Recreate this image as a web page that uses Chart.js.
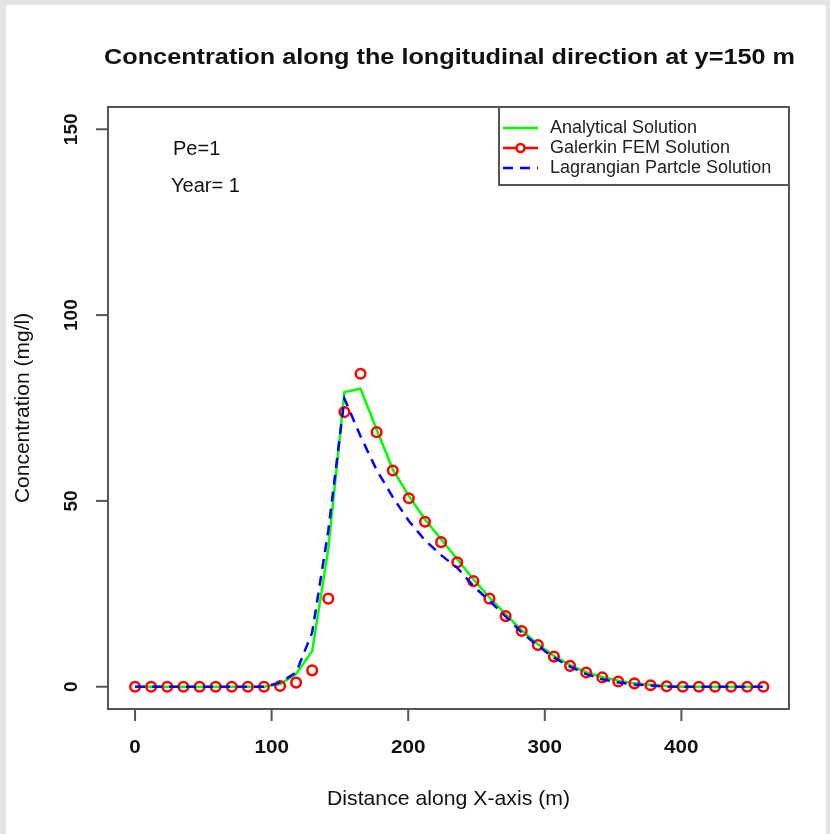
<!DOCTYPE html>
<html lang="en">
<head>
    <meta charset="UTF-8">
    <title>Concentration along the longitudinal direction</title>
    <script src="https://cdn.jsdelivr.net/npm/chart.js"></script>
    <style>
        html, body {
            margin: 0;
            padding: 0;
            background: #e4e4e4;
        }
        #wrap {
            width: 830px;
            height: 834px;
        }
    </style>
</head>
<body>
    <div id="wrap"><canvas id="concChart"></canvas></div>

    <script>
        // distance along x (m), 40 nodes
        const xDist = [0, 11.8, 23.6, 35.4, 47.2, 59.0, 70.8, 82.6, 94.4, 106.2,
                       117.9, 129.7, 141.5, 153.3, 165.1, 176.9, 188.7, 200.5, 212.3, 224.1,
                       235.9, 247.7, 259.5, 271.3, 283.1, 294.9, 306.7, 318.5, 330.3, 342.1,
                       353.8, 365.6, 377.4, 389.2, 401.0, 412.8, 424.6, 436.4, 448.2, 460];

        const analytical = [0, 0, 0, 0, 0, 0, 0, 0, 0, 0.7,
                            3.4, 9.6, 37, 79.3, 80.2, 69.2, 58.5, 51.3, 45, 39.7,
                            34.3, 28.9, 24, 19.5, 15.2, 11.4, 8.3, 5.8, 3.9, 2.6,
                            1.6, 0.9, 0.5, 0.2, 0, 0, 0, 0, 0, 0];

        const galerkin = [0, 0, 0, 0, 0, 0, 0, 0, 0, 0.2,
                          1.1, 4.4, 23.7, 73.9, 84.2, 68.5, 58.2, 50.7, 44.4, 38.9,
                          33.5, 28.4, 23.7, 19.0, 15.0, 11.2, 8.1, 5.6, 3.8, 2.5,
                          1.4, 0.9, 0.4, 0.1, 0, 0, 0, 0, 0, 0];

        const lagrangian = [0, 0, 0, 0, 0, 0, 0, 0, 0, 1.1,
                            3.8, 14.6, 42, 77.5, 67.4, 58.3, 51.0, 44.6, 39.4, 35.4,
                            32, 27.1, 23.1, 18.9, 14.6, 11.0, 7.8, 5.4, 3.4, 2.0,
                            1.1, 0.6, 0.3, 0, 0, 0, 0, 0, 0, 0];

        const xTicks = [0, 100, 200, 300, 400];
        const yTicks = [0, 50, 100, 150];

        const seriesNames = ["Analytical Solution", "Galerkin FEM Solution", "Lagrangian Partcle Solution"];
        const notes = ["Pe=1", "Year= 1"];

        const FONT = '"Liberation Sans", Arial, sans-serif';

        function pts(ys) {
            return xDist.map((x, i) => ({ x: x, y: ys[i] }));
        }

        // text squeezed/stretched to a given width (the source picture is stretched sideways)
        function fitText(ctx, text, cx, cy, width) {
            const w = ctx.measureText(text).width;
            ctx.save();
            ctx.translate(cx, cy);
            ctx.scale(width / w, 1);
            ctx.fillText(text, 0, 0);
            ctx.restore();
        }

        // R-style frame, ticks, labels and legend
        const rFrame = {
            id: "rFrame",
            beforeDraw(chart) {
                const ctx = chart.ctx;
                ctx.save();
                ctx.fillStyle = "#e4e4e4";
                ctx.fillRect(0, 0, chart.width, chart.height);
                ctx.fillStyle = "#ffffff";
                ctx.fillRect(6, 5, 820, chart.height - 5);
                ctx.restore();
            },
            afterDraw(chart) {
                const ctx = chart.ctx;
                const a = chart.chartArea;
                const xs = chart.scales.x;
                const ys = chart.scales.y;
                ctx.save();

                // box
                ctx.strokeStyle = "#555";
                ctx.lineWidth = 2;
                ctx.strokeRect(a.left, a.top, a.right - a.left, a.bottom - a.top);

                ctx.fillStyle = "#111";
                ctx.font = "bold 19px " + FONT;
                ctx.textAlign = "center";
                ctx.textBaseline = "middle";

                // x ticks
                xTicks.forEach(v => {
                    const px = xs.getPixelForValue(v);
                    ctx.beginPath();
                    ctx.moveTo(px, a.bottom);
                    ctx.lineTo(px, a.bottom + 12);
                    ctx.stroke();
                    fitText(ctx, String(v), px, a.bottom + 39, String(v).length * 11.5);
                });

                // y ticks (rotated labels)
                yTicks.forEach(v => {
                    const py = ys.getPixelForValue(v);
                    ctx.beginPath();
                    ctx.moveTo(a.left, py);
                    ctx.lineTo(a.left - 12, py);
                    ctx.stroke();
                    ctx.save();
                    ctx.translate(a.left - 36, py);
                    ctx.rotate(-Math.PI / 2);
                    ctx.fillText(String(v), 0, 0);
                    ctx.restore();
                });

                // title
                ctx.font = "bold 22px " + FONT;
                fitText(ctx, "Concentration along the longitudinal direction at y=150 m",
                        449.5, 58, 691);

                // axis titles
                ctx.font = "21px " + FONT;
                fitText(ctx, "Distance along X-axis (m)", (a.left + a.right) / 2, 799, 243);
                ctx.save();
                ctx.translate(23, (a.top + a.bottom) / 2);
                ctx.rotate(-Math.PI / 2);
                ctx.fillText("Concentration (mg/l)", 0, 0);
                ctx.restore();

                // annotations
                ctx.textAlign = "left";
                ctx.font = "20px " + FONT;
                ctx.fillText(notes[0], 173, 149);
                ctx.fillText(notes[1], 171, 186);

                // legend
                const lx = 499, ly = a.top, lw = a.right - 499, lh = 78;
                ctx.strokeStyle = "#555";
                ctx.lineWidth = 2;
                ctx.strokeRect(lx, ly, lw, lh);
                const rows = [ly + 21, ly + 41, ly + 61];
                const colors = ["#00ff00", "#ff0000", "#0000ff"];
                rows.forEach((ry, i) => {
                    ctx.strokeStyle = colors[i];
                    ctx.lineWidth = 2.5;
                    ctx.setLineDash(i === 2 ? [10, 7] : []);
                    ctx.beginPath();
                    ctx.moveTo(503, ry);
                    ctx.lineTo(538, ry);
                    ctx.stroke();
                    ctx.setLineDash([]);
                    if (i === 1) {
                        ctx.fillStyle = "#fff";
                        ctx.beginPath();
                        ctx.arc(520.5, ry, 4, 0, Math.PI * 2);
                        ctx.fill();
                        ctx.stroke();
                    }
                    ctx.fillStyle = "#222";
                    ctx.font = "18px " + FONT;
                    ctx.fillText(seriesNames[i], 550, ry);
                });

                ctx.restore();
            }
        };

        const ctx = document.getElementById("concChart").getContext("2d");
        new Chart(ctx, {
            type: "scatter",
            data: {
                datasets: [
                    {
                        label: seriesNames[0],
                        data: pts(analytical),
                        showLine: true,
                        borderColor: "#00ff00",
                        borderWidth: 2.5,
                        pointRadius: 0,
                        tension: 0,
                        order: 3
                    },
                    {
                        label: seriesNames[1],
                        data: pts(galerkin),
                        showLine: false,
                        borderColor: "#ff0000",
                        backgroundColor: "rgba(0,0,0,0)",
                        pointRadius: 4.8,
                        pointBorderWidth: 2.5,
                        order: 2
                    },
                    {
                        label: seriesNames[2],
                        data: pts(lagrangian),
                        showLine: true,
                        borderColor: "#0000ff",
                        borderWidth: 2.5,
                        borderDash: [10, 7],
                        pointRadius: 0,
                        tension: 0,
                        order: 1
                    }
                ]
            },
            options: {
                responsive: true,
                maintainAspectRatio: false,
                animation: false,
                layout: {
                    padding: { left: 108, top: 107, right: 41, bottom: 125 }
                },
                scales: {
                    x: { type: "linear", display: false, min: -19.8, max: 478.8 },
                    y: { type: "linear", display: false, min: -6, max: 156 }
                },
                plugins: {
                    legend: { display: false },
                    tooltip: { enabled: false }
                }
            },
            plugins: [rFrame]
        });
    </script>
</body>
</html>
